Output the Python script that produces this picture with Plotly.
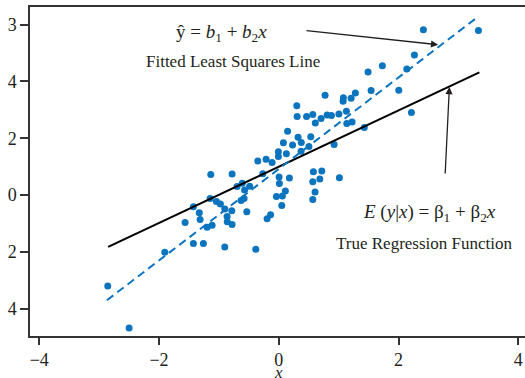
import plotly.graph_objects as go

# ---- data ----
x_obs = [2.415, 3.334, 2.265, 1.730, 1.491, 2.138, 0.773, 1.079, 1.074, 1.208,
         1.279, 1.542, 2.004, 0.301, 0.306, 0.464, 0.568, 0.706, 0.807, 0.879,
         1.004, 1.129, 1.136, 1.224, 0.610, 1.428, 2.215, 0.147, 0.322, 0.376,
         0.534, 0.077, 0.230, 0.503, 0.372, 0.924, -0.007, 0.127, -0.007, -0.212,
         -0.112, -0.351, -0.267, -0.780, -1.136, -0.696, -0.610, -0.486, -0.571, -0.580,
         -0.630, -0.785, -0.534, 0.005, 0.177, 0.010, 0.110, -0.040, 0.060, 0.050,
         0.578, 0.718, 0.568, 0.685, 1.012, 0.606, 0.568, -0.137, -0.195, -1.147,
         -1.042, -0.975, -0.902, -1.426, -1.328, -1.314, -1.565, -0.863, -0.860, -0.780,
         -1.197, -1.114, -1.426, -1.259, -0.902, -0.384, -1.904, -2.856, -2.500]
y_obs = [5.822, 5.797, 4.929, 4.552, 4.330, 4.435, 3.518, 3.423, 3.299, 3.412,
         3.589, 3.680, 3.687, 3.140, 2.763, 2.763, 2.833, 2.699, 2.823, 2.805,
         2.851, 2.953, 2.523, 2.576, 2.534, 2.375, 2.904, 2.251, 2.036, 1.852,
         2.057, 1.845, 1.764, 1.711, 1.542, 1.782, 1.524, 1.454, 1.358, 1.260,
         1.147, 1.200, 0.752, 0.741, 0.723, 0.300, 0.413, 0.311, 0.176, -0.124,
         -0.194, -0.554, -0.589, 0.635, 0.600, 0.406, 0.141, -0.053, -0.028, -0.363,
         0.822, 0.847, 0.469, 0.565, 0.610, 0.106, -0.152, -0.688, -0.829, -0.124,
         -0.229, -0.311, -0.487, -0.413, -0.625, -0.857, -0.963, -0.752, -0.942, -1.034,
         -1.129, -1.059, -1.704, -1.704, -1.824, -1.905, -2.011, -3.200, -4.682]

# true regression function E(y|x) = beta1 + beta2 x
beta1, beta2 = 1.0, 0.99
true_x = [-2.85, 3.35]
# fitted least squares line yhat = b1 + b2 x
b1, b2 = 0.92, 1.61
fit_x = [-2.87, 3.28]

x_ticks = [-4, -2, 0, 2, 4]
y_ticks = [6, 4, 2, 0, -2, -4]
y_ticklabels = ["3", "4", "2", "0", "2", "4"]

BLUE = "#0b74bf"
FONT = "Liberation Serif, Times New Roman, serif"
TXT = "#231f20"

fig = go.Figure()
fig.add_trace(go.Scatter(
    x=x_obs, y=y_obs, mode="markers",
    marker=dict(color=BLUE, size=7, line=dict(width=0)),
    showlegend=False, hoverinfo="skip"))
fig.add_trace(go.Scatter(
    x=true_x, y=[beta1 + beta2 * v for v in true_x], mode="lines",
    line=dict(color="black", width=2), showlegend=False))
fig.add_trace(go.Scatter(
    x=fit_x, y=[b1 + b2 * v for v in fit_x], mode="lines",
    line=dict(color=BLUE, width=2, dash="8px,5px"), showlegend=False))

ann_font = dict(family=FONT, size=17, color=TXT)
eq_font = dict(family=FONT, size=19, color=TXT)
annotations = [
    dict(x=-0.964, y=5.72, xref="x", yref="y", showarrow=False,
         text="ŷ = <i>b</i><sub>1</sub> + <i>b</i><sub>2</sub><i>x</i>", font=eq_font),
    dict(x=-0.763, y=4.69, xref="x", yref="y", showarrow=False,
         text="Fitted Least Squares Line", font=ann_font),
    dict(x=2.51, y=-0.63, xref="x", yref="y", showarrow=False,
         text="<i>E</i> (<i>y</i>|<i>x</i>) = β<sub>1</sub> + β<sub>2</sub><i>x</i>", font=eq_font),
    dict(x=2.427, y=-1.69, xref="x", yref="y", showarrow=False,
         text="True Regression Function", font=ann_font),
    # arrows
    dict(x=2.661, y=5.293, ax=0.439, ay=5.797, xref="x", yref="y", axref="x", ayref="y",
         showarrow=True, text="", arrowhead=2, arrowsize=1.1, arrowwidth=1.3, arrowcolor=TXT),
    dict(x=2.849, y=3.80, ax=2.778, ay=0.706, xref="x", yref="y", axref="x", ayref="y",
         showarrow=True, text="", arrowhead=2, arrowsize=1.1, arrowwidth=1.3, arrowcolor=TXT),
    dict(x=0, y=-0.11, xref="x", yref="paper", yanchor="middle", showarrow=False,
         text="<i>x</i>", font=ann_font),
]

fig.update_layout(
    width=525, height=378,
    margin=dict(l=30, r=0, t=7, b=42, autoexpand=False),
    paper_bgcolor="white", plot_bgcolor="white",
    font=dict(family=FONT, size=17, color=TXT),
    annotations=annotations,
    xaxis=dict(range=[-4.155, 4.112], tickvals=x_ticks, showgrid=False, zeroline=False,
               automargin=False, ticklabeloverflow="allow",
               showline=True, linecolor="#333", linewidth=1.5, mirror=True,
               ticks="outside", ticklen=7, tickwidth=1.5, tickcolor="#333",
               tickfont=dict(family=FONT, size=18, color=TXT)),
    yaxis=dict(range=[-4.96, 6.62], tickvals=y_ticks, ticktext=y_ticklabels,
               automargin=False, showgrid=False, zeroline=False,
               showline=True, linecolor="#333", linewidth=1.5, mirror=False,
               ticks="outside", ticklen=8, tickwidth=1.5, tickcolor="#333",
               tickfont=dict(family=FONT, size=18, color=TXT)),
)

fig.write_html(
    "out.html",
    config={"displayModeBar": False},
    post_script="document.body.style.margin='0';document.body.style.overflow='hidden';",
)
